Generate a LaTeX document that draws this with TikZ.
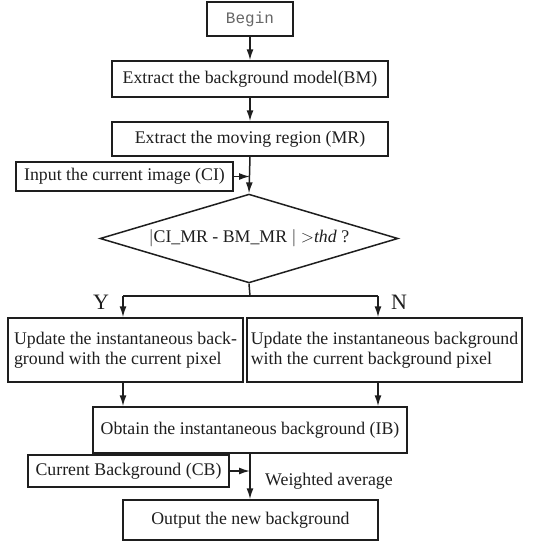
\documentclass[tikz,border=0pt]{standalone}
\usepackage{fontspec}
\setmainfont{Liberation Serif}
\setmonofont{Liberation Mono}
\usepackage{tikz}
\usetikzlibrary{shapes.geometric, arrows.meta, positioning, calc}
\definecolor{mydark}{RGB}{30,30,30}
\tikzset{
  block/.style={rectangle, draw=mydark, line width=1.5pt, inner sep=2pt,
    font=\fontsize{17.8}{19.5}\selectfont, text=mydark},
  decision/.style={diamond, aspect=2.8, draw=mydark, line width=1.5pt, inner sep=0pt,
    font=\fontsize{17.8}{19.5}\selectfont, text=mydark},
  arrow/.style={-{Latex[length=11pt,width=7pt]}, line width=1.5pt, color=mydark},
  line/.style={line width=1.5pt, color=mydark}
}

\begin{document}
\begin{tikzpicture}[x=1pt, y=-1pt]
  \useasboundingbox (0,0) rectangle (560,544);
  \node[block, minimum width=86pt, minimum height=34pt, font=\fontsize{16}{18}\ttfamily, text=black!60] (begin) at (250,19) {Begin};
  \node[block, minimum width=276pt, minimum height=36pt] (bm) at (250,79) {Extract the background model(BM)};
  \node[block, minimum width=276pt, minimum height=34pt] (mr) at (250,139) {Extract the moving region (MR)};
  \node[block, minimum width=217pt, minimum height=29pt] (ci) at (124.5,176.5) {Input the current image (CI)};
  \node[decision, minimum width=298pt, minimum height=83pt] (dec) at (249,238.5) {$|$CI\_MR - BM\_MR $|$ $>$\textit{thd} ?};
  \node[block, minimum width=235pt, minimum height=64pt, align=left] (upy) at (125.5,350) {Update the instantaneous back-\\ground with the current pixel};
  \node[block, minimum width=275pt, minimum height=64pt, align=left] (upn) at (384.5,350) {Update the instantaneous background\\with the current background pixel};
  \node[block, minimum width=314pt, minimum height=46pt] (ib) at (250,430) {Obtain the instantaneous background (IB)};
  \node[block, minimum width=201pt, minimum height=32pt] (cb) at (128.5,471) {Current Background (CB)};
  \node[block, minimum width=255pt, minimum height=40pt] (out) at (250.5,520) {Output the new background};
  \node[font=\fontsize{17.8}{19.5}\selectfont, text=mydark] (wavg) at (329,481) {Weighted average};
  \node[font=\fontsize{22}{24}\selectfont, text=mydark] (yes) at (101,302) {Y};
  \node[font=\fontsize{22}{24}\selectfont, text=mydark] (no) at (399,302) {N};

  \coordinate (split) at (250,296);
  \coordinate (ly) at (123,296);
  \coordinate (ry) at (378,296);

  \draw[arrow] (begin) -- (bm);
  \draw[arrow] (bm) -- (mr);
  \draw[arrow] (mr.south) -- (dec.north);
  \draw[arrow] (ci.east) -- (ci.east -| mr.south);
  \draw[line] (dec.south) -- (split);
  \draw[line] (ly) -- (ry);
  \draw[arrow] (ly) -- (ly |- upy.north);
  \draw[arrow] (ry) -- (ry |- upn.north);
  \draw[arrow] (ly |- upy.south) -- (ly |- ib.north);
  \draw[arrow] (ry |- upn.south) -- (ry |- ib.north);
  \draw[arrow] (ib.south -| split) -- (out.north -| split);
  \draw[arrow] (cb.east) -- (cb.east -| split);
\end{tikzpicture}
\end{document}
